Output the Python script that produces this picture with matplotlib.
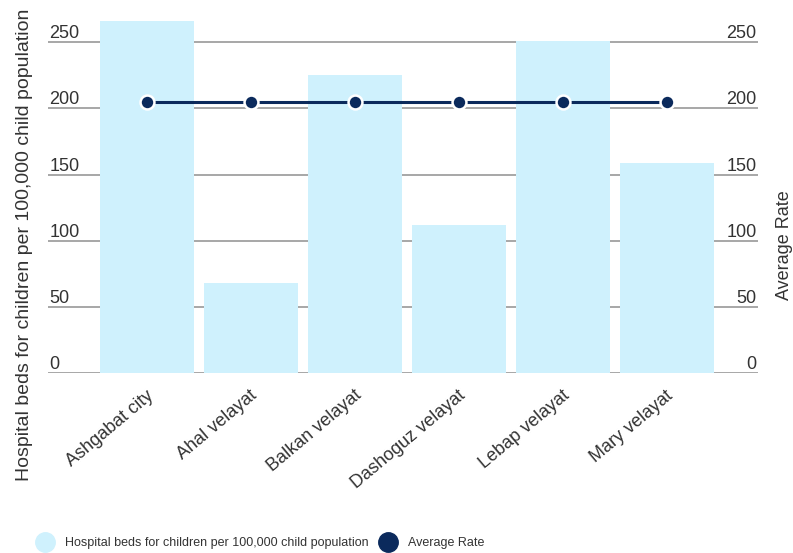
import matplotlib
matplotlib.use("Agg")
import matplotlib.pyplot as plt
from matplotlib.lines import Line2D
from matplotlib.transforms import ScaledTranslation

regions = ["Ashgabat city", "Ahal velayat", "Balkan velayat",
           "Dashoguz velayat", "Lebap velayat", "Mary velayat"]
beds_per_100k = [266, 68, 225, 112, 251, 159]
average_rate = [205, 205, 205, 205, 205, 205]
y_ticks = [0, 50, 100, 150, 200, 250]

bar_label = "Hospital beds for children per 100,000 child population"
line_label = "Average Rate"

BAR_COLOR = "#cff1fd"
LINE_COLOR = "#0b2a5c"
GRID_COLOR = "#a0a0a0"
TEXT_COLOR = "#333333"

plt.rcParams["font.family"] = ["Liberation Sans", "DejaVu Sans"]

W, H = 793, 553
fig = plt.figure(figsize=(W / 100, H / 100), dpi=100)

left_px, right_px, zero_px, top_px = 48, 758, 372.7, 16
ax_w, ax_h = right_px - left_px, zero_px - top_px
ax = fig.add_axes([left_px / W, 1 - zero_px / H, ax_w / W, ax_h / H])

x = list(range(len(regions)))
ax.bar(x, beds_per_100k, width=0.9, color=BAR_COLOR, zorder=2)
ax.plot(x, average_rate, color=LINE_COLOR, lw=2.2, zorder=3,
        marker="o", markersize=10, markerfacecolor=LINE_COLOR,
        markeredgecolor="white", markeredgewidth=1.8)

ax.set_xlim(-0.952, 5.875)
ax.set_ylim(0, 270)

for s in ax.spines.values():
    s.set_visible(False)
ax.set_axisbelow(True)
ax.grid(axis="y", color=GRID_COLOR, lw=1.3)
ax.grid(axis="x", visible=False)

# left value labels sit inside the plot, just above their gridlines
ax.set_yticks(y_ticks, labels=[str(v) for v in y_ticks], ha="left", va="bottom",
              fontsize=13, color=TEXT_COLOR)
ax.tick_params(axis="y", length=0, pad=-1)

ax.set_xticks(x)
ax.set_xticklabels(regions, rotation=40, ha="right", va="center",
                   rotation_mode="anchor", fontsize=13, color=TEXT_COLOR)
ax.tick_params(axis="x", length=0, pad=15)
shift = ScaledTranslation(4 / 100, 0, fig.dpi_scale_trans)
for lbl in ax.get_xticklabels():
    lbl.set_transform(lbl.get_transform() + shift)

label_y = (zero_px - 245) / ax_h
ax.set_ylabel(bar_label, fontsize=14, color=TEXT_COLOR)
ax.yaxis.set_label_coords(-(left_px - 33) / ax_w, label_y)

ax2 = ax.twinx()
ax2.set_ylim(ax.get_ylim())
for s in ax2.spines.values():
    s.set_visible(False)
ax2.set_yticks(y_ticks, labels=[str(v) for v in y_ticks], ha="right", va="bottom",
               fontsize=13, color=TEXT_COLOR)
ax2.tick_params(axis="y", length=0, pad=-1)
ax2.set_ylabel(line_label, fontsize=13, color=TEXT_COLOR, rotation=90)
ax2.yaxis.set_label_coords(1 + (776 - right_px) / ax_w, label_y)

handles = [
    Line2D([], [], ls="none", marker="o", markersize=14,
           markerfacecolor=BAR_COLOR, markeredgecolor=BAR_COLOR),
    Line2D([], [], ls="none", marker="o", markersize=14,
           markerfacecolor=LINE_COLOR, markeredgecolor=LINE_COLOR),
]
fig.legend(handles, [bar_label, line_label], loc="center",
           bbox_to_anchor=(260 / W, 1 - 543 / H), ncol=2, frameon=False,
           fontsize=9, labelcolor=TEXT_COLOR,
           handlelength=1.4, handletextpad=0.9, columnspacing=0.82)

fig.savefig("out.png", dpi=100)
